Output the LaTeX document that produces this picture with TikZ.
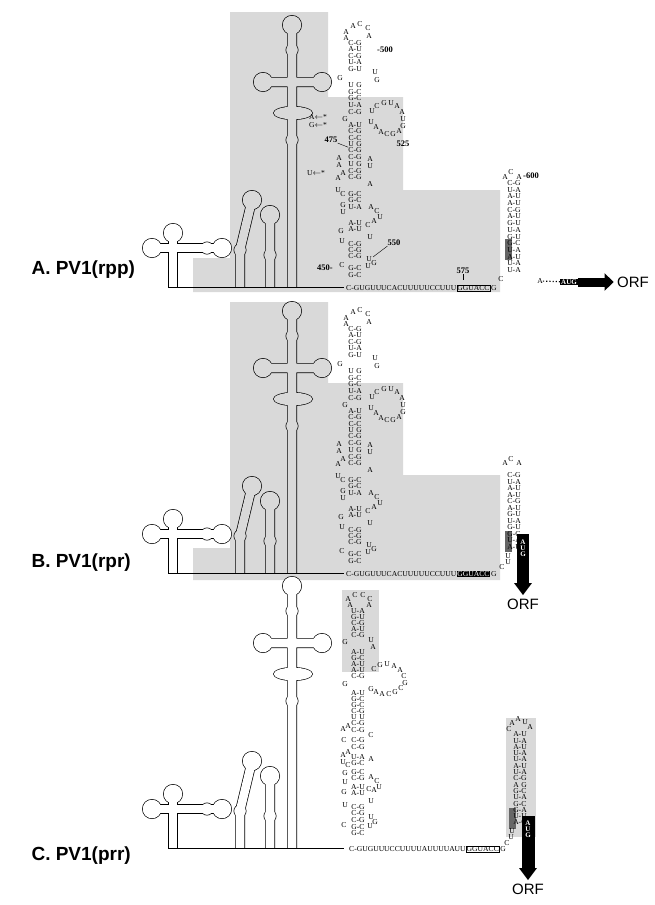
\documentclass[tikz,border=0pt]{standalone}
\usepackage{fontspec}
\setmainfont{Liberation Serif}
\newfontfamily\labelfont{Liberation Sans}
\usetikzlibrary{arrows.meta,positioning}
\tikzset{>=Stealth}
\tikzset{
    nt/.style={font=\fontsize{7.6}{7.6}\selectfont, inner sep=0pt},
    num/.style={font=\fontsize{8.5}{8.5}\selectfont\bfseries, inner sep=0pt},
    panel/.style={font=\labelfont\fontsize{19}{19}\selectfont\bfseries, anchor=west},
    orf/.style={font=\labelfont\fontsize{15}{15}\selectfont},
    shade/.style={fill=black!15},
    augbox/.style={fill=black, text=white, font=\fontsize{7}{7}\selectfont\bfseries, inner sep=1pt}
}
\newcounter{ntc}
\newcommand\nt[3]{\stepcounter{ntc}\node[nt] (n\arabic{ntc}) at (#1,#2) {#3};}
% outline of the 5' domains, drawn twice (black, then inside colour)
\newcommand\skeleton[2]{%
    \draw[#2, line width={2*#1}] (292,287) -- (292,25) (263,82) -- (322,82)
        (240,287) -- (240,250) -- (252,200) (270,287) -- (270,215);
    \fill[#2] (292,25) circle ({#1+5}) (263,82) circle ({#1+5}) (322,82) circle ({#1+5})
        (252,200) circle ({#1+5}) (270,215) circle ({#1+5})
        (292,50) circle ({#1+1.5}) (292,140) circle ({#1+1.5})
        (240,250) circle ({#1+1.5}) (270,255) circle ({#1+1.5})
        (293,113) ellipse ({#1+15} and {#1+2});
}
\newcommand\clover[2]{%
    \draw[#2, line width={2*#1}] (173,287) -- (173,233) (152,248) -- (222,248);
    \fill[#2] (173,233) circle ({#1+5}) (152,248) circle ({#1+5}) (222,248) circle ({#1+5})
        (207,248) circle ({#1+1.5});
}
\newcommand\domains[1]{%
    \skeleton{5}{black}\clover{5}{black}
    \skeleton{4.3}{#1}\clover{4.3}{white}
    \draw[line width=0.7] (168,287.5) -- (344,287.5);
}
% stem-loop 450-555, same in A and B
\newcommand\leftseq{%
    \nt{346}{32}{A}\nt{353}{26}{A}\nt{360}{24}{C}\nt{368}{28}{C}\nt{369}{36}{A}\nt{346}{38}{A}
    \foreach \p/\y in {C-G/43,A-U/49,C-G/56,U-A/62,G-U/69,U\phantom{-}G/85,G-C/92,G-C/98,
        U-A/105,C-G/112,A-U/125,C-G/131,C-C/138,U\phantom{-}G/144,C-G/150,C-G/157,
        U\phantom{-}G/164,C-G/171,C-G/177,G-C/194,G-C/200,U-A/207,A-U/223,A-U/229,
        C-G/244,C-G/250,C-G/256,G-C/268,G-C/275}
        \node[nt] (p\y) at (355,\y) {\p};
    \nt{375}{72}{U}\nt{340}{78}{G}\nt{377}{80}{G}
    \nt{372}{111}{U}\nt{377}{106}{C}\nt{384}{103}{G}\nt{391}{103}{U}\nt{397}{106}{A}
    \nt{402}{112}{A}\nt{403}{119}{U}\nt{403}{126}{G}\nt{399}{131}{A}\nt{393}{134}{G}
    \nt{387}{134}{C}\nt{381}{132}{A}\nt{376}{127}{A}\nt{371}{122}{U}
    \nt{345}{119}{G}
    \nt{339}{158}{A}\nt{370}{159}{A}\nt{339}{165}{A}\nt{370}{166}{U}
    \nt{338}{178}{A}\nt{343}{173}{A}\nt{370}{184}{A}\nt{338}{190}{U}\nt{343}{194}{C}
    \nt{343}{205}{G}\nt{343}{212}{U}\nt{371}{207}{A}\nt{377}{211}{C}\nt{380}{217}{U}
    \nt{374}{221}{A}\nt{368}{225}{C}\nt{341}{231}{G}\nt{370}{237}{U}\nt{342}{241}{U}
    \nt{369}{259}{U}\nt{374}{263}{G}\nt{368}{266}{U}\nt{342}{265}{C}
}
\begin{document}
\begin{tikzpicture}[x=1pt, y=-1pt]
\useasboundingbox (0,0) rectangle (654,905);
\fill[white] (0,0) rectangle (654,905);

% ---------- A. PV1(rpp) ----------
\fill[shade] (193,292) -- (193,258) -- (230,258) -- (230,12) -- (328,12) -- (328,97)
    -- (403,97) -- (403,190) -- (500,190) -- (500,292) -- cycle;
\domains{black!15}
\leftseq
\node[panel] (labA) at (28,270) {A. PV1(rpp)};
\node[nt, anchor=west] (baseA) at (346,288) {C-GUGUUUCACUUUUUCCUUU};
\node[nt, draw, inner sep=0.6pt, right=0pt of baseA] (boxA) {GGUACC};
\node[nt, right=0.5pt of boxA] (endA) {G};
\fill[black!60] (505,239) rectangle (512,260);
\foreach \p [count=\i] in {C-G,U-A,A-U,A-U,C-G,A-U,G-U,U-A,G-U,G-C,U-A,A-U,U-A,U-A}
    \node[nt] (ra\i) at (514,176.3+6.7*\i) {\p};
\nt{505}{177}{A}\nt{511}{172}{C}\nt{519}{177}{A}\nt{501}{279}{C}
\node[nt] (tailA) at (540,281) {A};
\node[augbox] (augA) at (569,282) {AUG};
\node[orf] (orfA) at (633,282) {ORF};
\draw[dotted, line width=1.2] (tailA) -- (augA);
\draw[line width=9, -{Triangle[length=9pt, width=17pt]}] (augA.east) -- (orfA.west);
\node[num, anchor=west] (m500) at (377,50) {-500};
\node[num, anchor=west] (m600) at (523,176) {-600};
\node[num] (m525) at (403,144) {525};
\node[num] (m475) at (331,140) {475};
\node[num] (m550) at (394,243) {550};
\node[num] (m450) at (325,268) {450-};
\node[num] (m575) at (463,271) {575};
\draw[thin] (m475.south east) -- (p150.north west);
\draw[thin] (m550.south west) -- (373,257);
\draw[thin] (m575.south) -- ++(0,6);
\node[nt] (mutA) at (318,117) {A$\leftarrow$*};
\node[nt] (mutG) at (318,125) {G$\leftarrow$*};
\node[nt] (mutU) at (316,173) {U$\leftarrow$*};

% ---------- B. PV1(rpr) ----------
\begin{scope}[shift={(0,286)}]
\fill[shade] (193,294) -- (193,262) -- (230,262) -- (230,16) -- (328,16) -- (328,97)
    -- (403,97) -- (403,189) -- (500,189) -- (500,294) -- cycle;
\domains{black!15}
\leftseq
\node[panel] (labB) at (28,277) {B. PV1(rpr)};
\node[nt, anchor=west] (baseB) at (346,288) {C-GUGUUUCACUUUUUCCUUU};
\node[nt, fill=black, text=white, inner sep=0.6pt, right=0pt of baseB] (boxB) {GGUACC};
\node[nt, right=0.5pt of boxB] (endB) {G};
\fill[black!60] (505,245) rectangle (512,266);
\fill[black] (517,248) rectangle (529,292);
\foreach \p [count=\i] in {C-G,U-A,A-U,A-U,C-G,A-U,G-U,U-A,G-U,G-C,U-A,A-U}
    \node[nt] (rb\i) at (514,183+6.5*\i) {\p};
\nt{508}{270}{U}\nt{508}{276}{U}
\nt{505}{177}{A}\nt{511}{173}{C}\nt{519}{177}{A}\nt{502}{281}{C}
\node[augbox, align=center, fill=none] (augB) at (523,262) {A\\[-1pt]U\\[-1pt]G};
\node[orf] (orfB) at (523,318) {ORF};
\draw[line width=12, -{Triangle[length=12pt, width=17pt]}] (523,290) -- (orfB.north);
\end{scope}

% ---------- C. PV1(prr) ----------
\begin{scope}[shift={(0,561)}]
\fill[shade] (342,29) rectangle (379,111);
\fill[shade] (506,157) rectangle (536,276);
\domains{white}
\node[panel] (labC) at (28,295) {C. PV1(prr)};
\nt{348}{38}{A}\nt{355}{34}{C}\nt{363}{34}{C}\nt{370}{38}{C}\nt{350}{44}{A}\nt{369}{44}{A}
\foreach \p/\y in {U-A/50,G-U/56,C-G/62,A-U/68,C-G/74,A-U/91,G-C/97,A-U/103,A-U/109,
    C-G/115,A-U/132,G-C/138,G-C/144,C-G/150,U\phantom{-}U/156,C-G/162,C-G/169,C-G/179,
    C-G/186,U-A/196,G-C/202,G-C/211,C-G/217,A-U/226,A-U/232,C-G/246,C-G/252,C-G/259,
    G-C/266,G-C/272}
    \node[nt] (c\y) at (358,\y) {\p};
\nt{345}{81}{G}\nt{371}{79}{U}\nt{373}{86}{A}\nt{345}{123}{G}
\nt{374}{108}{C}\nt{380}{104}{G}\nt{387}{103}{U}\nt{394}{105}{A}\nt{400}{109}{A}
\nt{404}{115}{C}\nt{405}{122}{G}\nt{401}{127}{C}\nt{395}{131}{G}\nt{389}{133}{C}
\nt{382}{133}{A}\nt{376}{131}{A}\nt{371}{128}{G}
\nt{343}{168}{A}\nt{348}{165}{A}\nt{371}{174}{C}\nt{344}{179}{C}
\nt{343}{194}{A}\nt{348}{191}{A}\nt{371}{198}{A}\nt{343}{201}{U}\nt{348}{204}{C}
\nt{371}{216}{A}\nt{377}{220}{C}\nt{379}{226}{U}\nt{374}{229}{A}\nt{345}{212}{G}
\nt{345}{221}{U}\nt{369}{228}{C}\nt{344}{231}{G}\nt{371}{240}{U}\nt{345}{244}{U}
\nt{371}{256}{U}\nt{375}{261}{G}\nt{370}{265}{U}\nt{344}{264}{C}
\node[nt, anchor=west] (baseC) at (349,288) {C-GUGUUUCCUUUUAUUUUAUU};
\node[nt, draw, inner sep=0.6pt, right=0pt of baseC] (boxC) {GGUACC};
\node[nt, right=0.5pt of boxC] (endC) {G};
\fill[black!60] (509,247) rectangle (516,268);
\fill[black] (522,255) rectangle (535,300);
\foreach \p [count=\i] in {A-U,U-A,A-U,U-A,U-A,A-U,U-A,C-G,A\phantom{-}G,G-C,U-A,G-C,G-A,U-U,A-G}
    \node[nt] (rc\i) at (520,167+6.3*\i) {\p};
\nt{509}{168}{C}\nt{512}{162}{A}\nt{518}{158}{A}\nt{525}{161}{U}\nt{530}{166}{A}
\nt{512}{270}{U}\nt{511}{276}{U}\nt{507}{282}{C}
\node[augbox, align=center, fill=none] (augC) at (528,268) {A\\[-1pt]U\\[-1pt]G};
\node[orf] (orfC) at (528,328) {ORF};
\draw[line width=13, -{Triangle[length=12pt, width=17pt]}] (528,298) -- (orfC.north);
\end{scope}
\end{tikzpicture}
\end{document}
